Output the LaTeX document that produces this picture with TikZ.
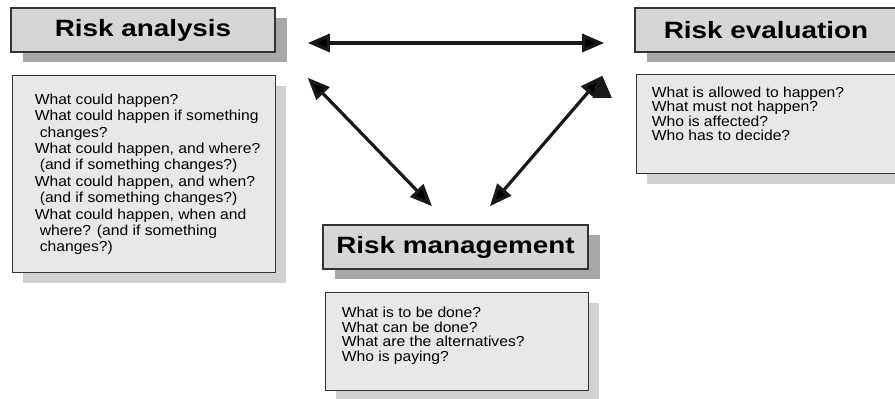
\documentclass[tikz,border=0pt]{standalone}
\usepackage{fontspec}
\newfontfamily\boxfont[FakeStretch=1.08]{Liberation Sans}
\newfontfamily\headfont[FakeStretch=1.18]{Liberation Sans}
\usepackage{xcolor}
\usepackage{tikz}
\usetikzlibrary{arrows.meta}
\usetikzlibrary{calc}
\usetikzlibrary{positioning}
\usetikzlibrary{shadows}
\definecolor{titlefill}{gray}{0.84}
\definecolor{boxfill}{gray}{0.91}
\definecolor{headshade}{gray}{0.66}
\definecolor{panelshade}{gray}{0.82}
\definecolor{rimgray}{gray}{0.2}
\definecolor{arrowink}{gray}{0.1}

\begin{document}
\begin{tikzpicture}[x=1pt,y=1pt,>={Triangle[length=22pt,width=18pt]},semithick]
	\tikzstyle{heading}=[draw=rimgray, line width=1.6pt, fill=titlefill, inner sep=0pt, minimum height=44pt,
		font=\headfont\bfseries\fontsize{23.6}{26}\selectfont,
		drop shadow={shadow xshift=12pt, shadow yshift=-10pt, fill=headshade, opacity=1}]
	\tikzstyle{panel}=[draw=rimgray, line width=1pt, fill=boxfill, inner sep=0pt,
		drop shadow={shadow xshift=11pt, shadow yshift=-11pt, fill=panelshade, opacity=1}]
	\tikzstyle{qlist}=[anchor=north west, inner sep=0pt, align=left, font=\boxfont\fontsize{14.5}{14.5}\selectfont]
	\tikzstyle{link}=[<->, line width=3.2pt, draw=arrowink]
	\useasboundingbox (0,0) rectangle (895,-399);

	% analysis
	\node[heading, minimum width=264] (anatitle) at (143,-30) {Risk analysis};
	\node[panel, minimum width=263, minimum height=197] (anabox) at (143.5,-173.5) {};
	\node[qlist, font=\boxfont\fontsize{14.5}{16.4}\selectfont] (analist) at ($(anabox.north west)+(23,-19)$)
		{What could happen?\\
		What could happen if something\\
		\hspace*{5pt}changes?\\
		What could happen, and where?\\
		\hspace*{5pt}(and if something changes?)\\
		What could happen, and when?\\
		\hspace*{5pt}(and if something changes?)\\
		What could happen, when and\\
		\hspace*{5pt}where? (and if something\\
		\hspace*{5pt}changes?)};

	% evaluation
	\node[heading, minimum width=262] (evaltitle) at (766,-30) {Risk evaluation};
	\node[panel, minimum width=261, minimum height=99] (evalbox) at (766.5,-123.5) {};
	\node[qlist] (evallist) at ($(evalbox.north west)+(16,-13)$)
		{What is allowed to happen?\\
		What must not happen?\\
		Who is affected?\\
		Who has to decide?};

	% management
	\node[heading, minimum width=265] (mgmttitle) at (455.5,-247) {Risk management};
	\node[panel, minimum width=263, minimum height=98] (mgmtbox) at (456.5,-341) {};
	\node[qlist] (mgmtlist) at ($(mgmtbox.north west)+(17,-15.5)$)
		{What is to be done?\\
		What can be done?\\
		What are the alternatives?\\
		Who is paying?};

	\coordinate (hl) at ($(anatitle.east)+(32,-13)$);
	\coordinate (hr) at ($(evaltitle.west)+(-30,-13)$);
	\coordinate (dl) at ($(anatitle.south east)+(32,-25)$);
	\coordinate (dr) at ($(evaltitle.south west)+(-32,-23)$);
	\coordinate (ml) at ($(mgmttitle.north)+(-23.5,18)$);
	\coordinate (mr) at ($(mgmttitle.north)+(34.5,18)$);
	\path[link]
		(hl) edge (hr)
		(dl) edge (ml)
		%(ml) edge (mr)
		(dr) edge (mr);
\end{tikzpicture}
\end{document}
